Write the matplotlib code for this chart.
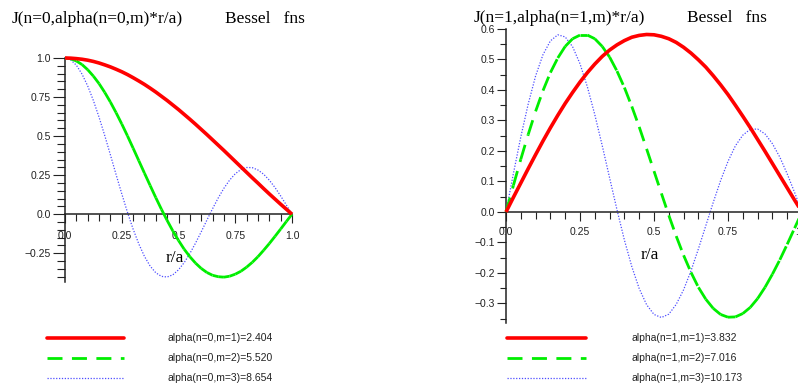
import matplotlib
matplotlib.use("Agg")
import matplotlib.pyplot as plt
from matplotlib.collections import LineCollection
from matplotlib.lines import Line2D
import numpy as np

# r/a sample points
r_a = [0.0, 0.025, 0.05, 0.075, 0.1, 0.125, 0.15, 0.175, 0.2, 0.225,
       0.25, 0.275, 0.3, 0.325, 0.35, 0.375, 0.4, 0.425, 0.45, 0.475,
       0.5, 0.525, 0.55, 0.575, 0.6, 0.625, 0.65, 0.675, 0.7, 0.725,
       0.75, 0.775, 0.8, 0.825, 0.85, 0.875, 0.9, 0.925, 0.95, 0.975, 1.0]

# curve values, in thousandths
j0_m1 = [1000, 999, 996, 992, 986, 978, 968, 956, 943, 928, 912, 894, 874, 853, 831, 807, 782, 755, 728, 699,
         670, 639, 608, 576, 543, 510, 476, 442, 408, 373, 338, 303, 268, 233, 199, 164, 130, 97, 64, 32, 0]
j0_m2 = [1000, 995, 981, 958, 925, 884, 836, 780, 718, 650, 578, 502, 423, 343, 263, 184, 106, 31, -40, -107,
         -168, -224, -272, -313, -347, -373, -391, -400, -403, -397, -384, -365, -339, -308, -272, -231, -188, -142, -95, -47, 0]
j0_m3 = [1000, 988, 954, 897, 821, 728, 621, 504, 380, 254, 131, 13, -95, -190, -270, -332, -375, -398, -402, -388,
         -356, -310, -252, -185, -113, -38, 35, 104, 166, 218, 259, 286, 299, 298, 283, 256, 218, 171, 117, 59, 0]
j1_m1 = [0, 48, 95, 142, 188, 233, 276, 317, 356, 392, 426, 457, 485, 510, 531, 548, 562, 573, 579, 582,
         581, 576, 568, 556, 540, 521, 499, 475, 447, 417, 385, 350, 314, 277, 238, 199, 159, 119, 79, 39, 0]
j1_m2 = [0, 87, 173, 254, 330, 398, 457, 505, 543, 568, 580, 580, 568, 543, 508, 462, 408, 346, 279, 207,
         134, 61, -11, -79, -142, -198, -247, -286, -316, -336, -345, -344, -333, -313, -284, -247, -204, -157, -106, -53, 0]
j1_m3 = [0, 126, 246, 354, 446, 516, 561, 581, 574, 542, 486, 410, 319, 218, 112, 7, -92, -179, -251, -304,
         -336, -346, -335, -303, -255, -193, -121, -45, 31, 103, 166, 217, 252, 271, 272, 256, 224, 180, 125, 64, 0]

labels_n0 = ["alpha(n=0,m=1)=2.404", "alpha(n=0,m=2)=5.520", "alpha(n=0,m=3)=8.654"]
labels_n1 = ["alpha(n=1,m=1)=3.832", "alpha(n=1,m=2)=7.016", "alpha(n=1,m=3)=10.173"]

x_major = [0.0, 0.25, 0.5, 0.75, 1.0]
x_major_lbl = ["0.0", "0.25", "0.5", "0.75", "1.0"]
y0_major = [-0.25, 0.0, 0.25, 0.5, 0.75, 1.0]
y0_major_lbl = ["\u22120.25", "0.0", "0.25", "0.5", "0.75", "1.0"]
y1_major = [-0.3, -0.2, -0.1, 0.0, 0.1, 0.2, 0.3, 0.4, 0.5, 0.6]
y1_major_lbl = ["\u22120.3", "\u22120.2", "\u22120.1", "0.0", "0.1", "0.2", "0.3", "0.4", "0.5", "0.6"]

RED = "#ff0000"
GREEN = "#00ee00"
BLUE = "#4d4dff"
AXC = "#222222"
SANS = "Liberation Sans"
SERIF = "Liberation Serif"
W, H = 798.0, 385.0

fig = plt.figure(figsize=(7.98, 3.85), dpi=100)


def setup(ax, ylim, ymaj, ymaj_lbl, ymin_step, ylen, xpad):
    ax.set_xlim(0, 1)
    ax.set_ylim(*ylim)
    for s in ["top", "right"]:
        ax.spines[s].set_visible(False)
    ax.spines["left"].set_position(("data", 0))
    ax.spines["bottom"].set_position(("data", 0))
    for s in ["left", "bottom"]:
        ax.spines[s].set_linewidth(1.1)
        ax.spines[s].set_color(AXC)
    ax.set_xticks(x_major)
    ax.set_xticklabels(x_major_lbl)
    ax.set_xticks(np.arange(0, 1.0001, 0.05), minor=True)
    ax.set_yticks(ymaj)
    ax.set_yticklabels(ymaj_lbl)
    lo = np.ceil(ylim[0] / ymin_step - 1e-6) * ymin_step
    ax.set_yticks(np.arange(lo, ylim[1] + 1e-6, ymin_step), minor=True)
    ax.tick_params(axis="x", which="major", direction="out", length=6.5, width=0.8,
                   color=AXC, pad=xpad, labelsize=7.5, labelcolor=AXC)
    ax.tick_params(axis="x", which="minor", direction="out", length=5, width=0.8, color=AXC)
    ax.tick_params(axis="y", which="major", direction="out", length=ylen[0], width=0.8,
                   color=AXC, pad=1.5, labelsize=7.5, labelcolor=AXC)
    ax.tick_params(axis="y", which="minor", direction="out", length=ylen[1], width=0.8, color=AXC)
    for t in ax.get_xticklabels() + ax.get_yticklabels():
        t.set_fontfamily(SANS)
    ax.patch.set_visible(False)


def draw(ax, ys):
    r = np.array(r_a)
    y1 = np.array(ys[0]) / 1000.0
    y2 = np.array(ys[1]) / 1000.0
    y3 = np.array(ys[2]) / 1000.0
    ax.plot(r, y3, color=BLUE, lw=0.9, ls=(0, (1, 1.3)), clip_on=False, zorder=2)
    # dashes restart on each segment, like the original plotter
    pts = np.column_stack([r, y2])
    segs = [[pts[i], pts[i + 1]] for i in range(len(pts) - 1)]
    lc = LineCollection(segs, colors=GREEN, linewidths=2.0, linestyles=[(0, (5.4, 3.4))],
                        capstyle="butt", clip_on=False, zorder=3)
    ax.add_collection(lc)
    ax.plot(r, y1, color=RED, lw=2.6, clip_on=False, zorder=4, solid_capstyle="butt")


ax0 = fig.add_axes([65 / W, (H - 282) / H, 227 / W, (282 - 58) / H])
setup(ax0, (-0.434, 1.0), y0_major, y0_major_lbl, 0.05, (8.5, 5.5), 5.5)
draw(ax0, [j0_m1, j0_m2, j0_m3])

ax1 = fig.add_axes([506 / W, (H - 323) / H, 296 / W, (323 - 29) / H])
setup(ax1, (-0.364, 0.6), y1_major, y1_major_lbl, 0.05, (6.5, 4.5), 4.0)
draw(ax1, [j1_m1, j1_m2, j1_m3])

# titles and axis labels
fig.text(12 / W, 1 - 19 / H, "J(n=0,alpha(n=0,m)*r/a)", family=SERIF, fontsize=12.5, va="center")
fig.text(225 / W, 1 - 19 / H, "Bessel   fns", family=SERIF, fontsize=12.5, va="center")
fig.text(474 / W, 1 - 18 / H, "J(n=1,alpha(n=1,m)*r/a)", family=SERIF, fontsize=12.5, va="center")
fig.text(687 / W, 1 - 18 / H, "Bessel   fns", family=SERIF, fontsize=12.5, va="center")
fig.text(175 / W, 1 - 258 / H, "r/a", family=SERIF, fontsize=12.5, ha="center", va="center")
fig.text(650 / W, 1 - 255 / H, "r/a", family=SERIF, fontsize=12.5, ha="center", va="center")

# legends below each panel
styles = [dict(color=RED, lw=2.6, solid_capstyle="round"),
          dict(color=GREEN, lw=2.0, ls=(0, (5.4, 3.4))),
          dict(color=BLUE, lw=0.9, ls=(0, (1, 1.3)))]
rows = [338, 358, 378]
for x0, x1, xt, labels in [(47, 124, 168, labels_n0), (507, 586, 631, labels_n1)]:
    for yy, st, lbl in zip(rows, styles, labels):
        fig.add_artist(Line2D([x0 / W, x1 / W], [1 - yy / H, 1 - yy / H],
                              transform=fig.transFigure, **st))
        fig.text(xt / W, 1 - yy / H, lbl, family=SANS, fontsize=7.5, va="center", color=AXC)

fig.savefig("out.png", dpi=100)
